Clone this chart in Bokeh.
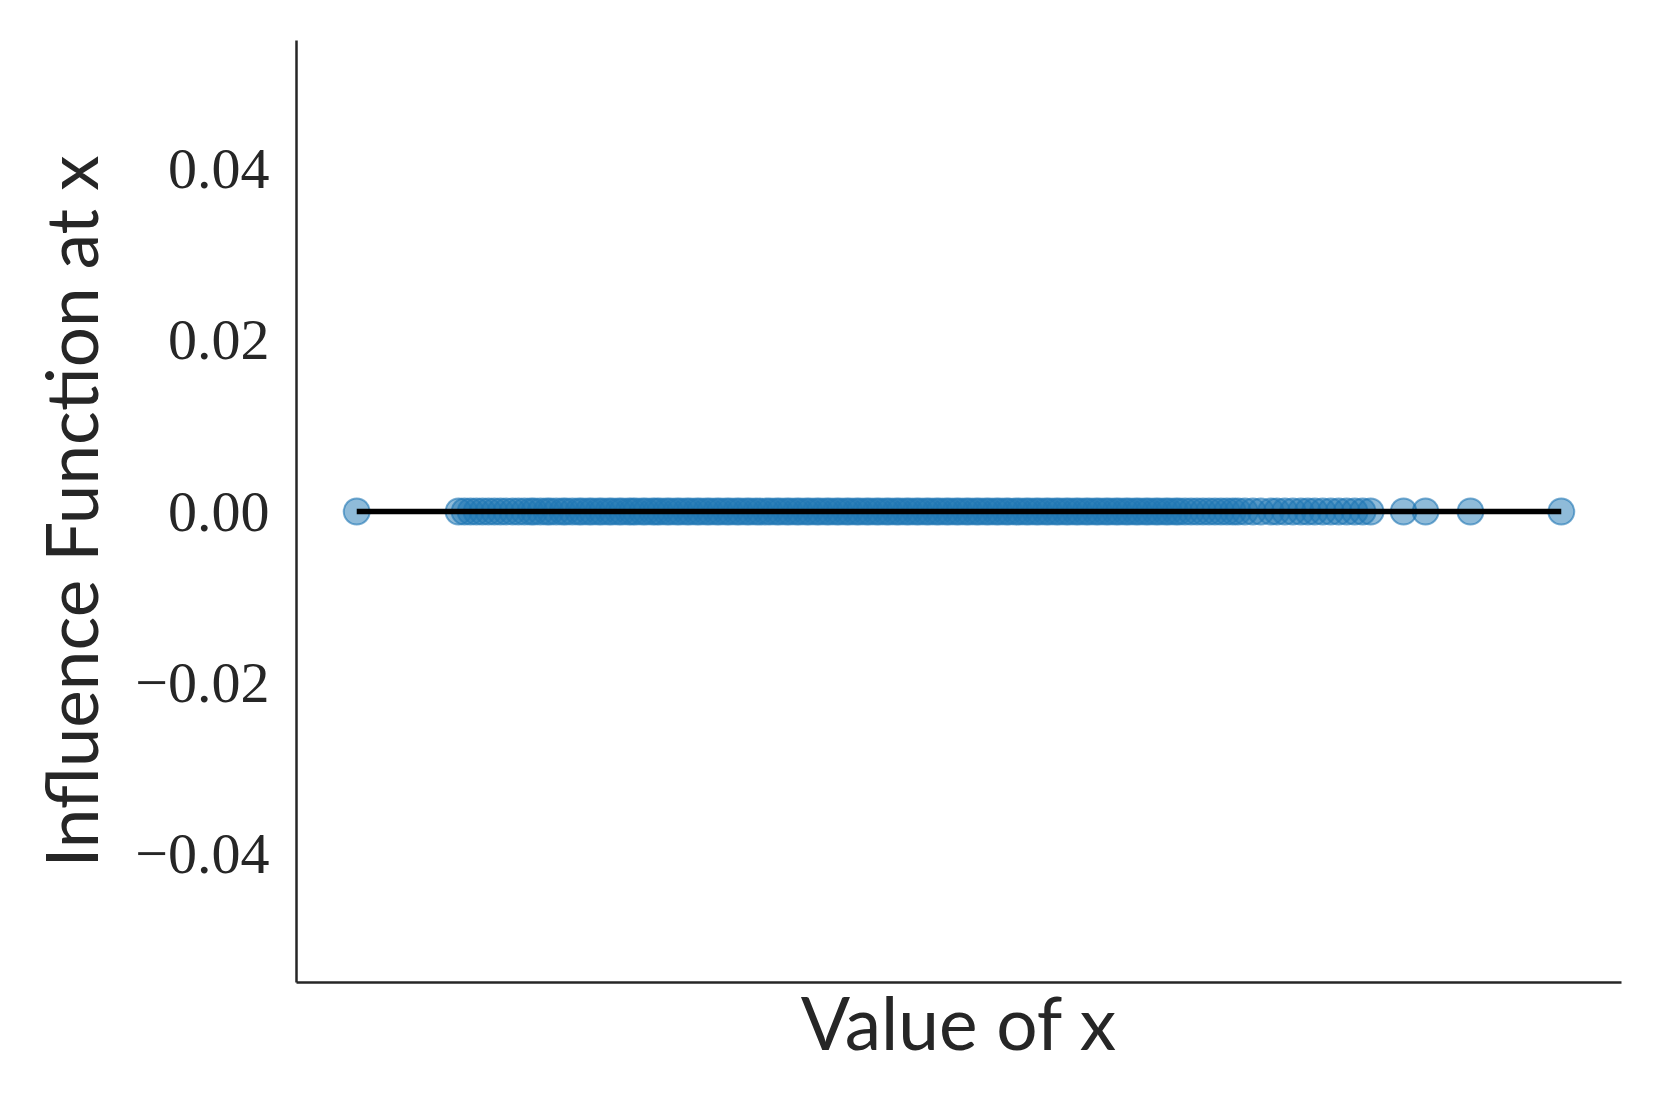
from bokeh.plotting import figure
from bokeh.models import FixedTicker, CustomJSTickFormatter, Range1d
from bokeh.embed import file_html
from bokeh.resources import INLINE

# sample positions (x), arbitrary units
x_values = [
    -2.73,
    -2.22, -2.19, -2.16, -2.13, -2.10, -2.07, -2.04, -2.01, -1.98, -1.95,
    -1.92, -1.89, -1.86, -1.84, -1.81, -1.78, -1.76, -1.73, -1.70, -1.68,
    -1.65, -1.62, -1.60, -1.57, -1.55, -1.52, -1.50, -1.47, -1.45, -1.42,
    -1.40, -1.37, -1.35, -1.33, -1.30, -1.28, -1.25, -1.23, -1.21, -1.18,
    -1.16, -1.13, -1.11, -1.08, -1.06, -1.03, -1.01, -0.98, -0.96, -0.93,
    -0.91, -0.88, -0.86, -0.83, -0.81, -0.78, -0.76, -0.73, -0.71, -0.68,
    -0.66, -0.63, -0.61, -0.58, -0.56, -0.53, -0.51, -0.48, -0.46, -0.43,
    -0.41, -0.38, -0.36, -0.33, -0.31, -0.28, -0.26, -0.23, -0.21, -0.18,
    -0.16, -0.13, -0.11, -0.08, -0.06, -0.03, -0.01, 0.02, 0.04, 0.07,
    0.09, 0.12, 0.14, 0.17, 0.19, 0.22, 0.24, 0.27, 0.29, 0.32,
    0.34, 0.37, 0.39, 0.42, 0.44, 0.47, 0.49, 0.52, 0.54, 0.57,
    0.59, 0.62, 0.64, 0.67, 0.69, 0.72, 0.74, 0.77, 0.79, 0.82,
    0.84, 0.87, 0.89, 0.92, 0.94, 0.97, 0.99, 1.02, 1.04, 1.07,
    1.09, 1.12, 1.14, 1.17, 1.19, 1.22, 1.24, 1.27, 1.29, 1.32,
    1.34, 1.37, 1.39, 1.42, 1.45, 1.48, 1.51, 1.54, 1.57, 1.60,
    1.63, 1.66, 1.685, 1.72, 1.76, 1.80, 1.85, 1.88, 1.92, 1.96,
    2.00, 2.035, 2.07, 2.11, 2.15, 2.19, 2.23, 2.27, 2.31, 2.35,
    2.515, 2.625, 2.85, 3.305,
]
influence = [0.0 for _ in x_values]

y_ticks = [-0.04, -0.02, 0.0, 0.02, 0.04]

x_label = "Value of x"
y_label = "Influence Function at x"

TEXT = "#262626"
BLUE = "#1f77b4"

W, H = 1653, 1093
BL, BR, BT, BB = 296, 32, 40, 111

xmin, xmax = min(x_values), max(x_values)
pad = (xmax - xmin) * 0.05
X0, X1 = xmin - pad, xmax + pad
Y0, Y1 = -0.055, 0.055

p = figure(width=W, height=H, output_backend="svg", toolbar_location=None,
           x_range=Range1d(X0, X1), y_range=Range1d(Y0, Y1),
           min_border_left=BL, min_border_right=BR, min_border_top=BT, min_border_bottom=BB)
p.outline_line_color = None
p.xgrid.visible = False
p.ygrid.visible = False
p.background_fill_color = "white"
p.border_fill_color = "white"

p.scatter(x_values, influence, size=26, fill_color=BLUE, fill_alpha=0.5,
          line_color=BLUE, line_alpha=0.6, line_width=2)
order = sorted(range(len(x_values)), key=lambda i: x_values[i])
p.line([x_values[i] for i in order], [influence[i] for i in order],
       line_color="black", line_width=5.5)

# axes
for ax in (p.xaxis[0], p.yaxis[0]):
    ax.axis_line_color = TEXT
    ax.axis_line_width = 2.5
    ax.major_tick_line_color = None
    ax.minor_tick_line_color = None
    ax.axis_label_text_font = "Lato"
    ax.axis_label_text_font_style = "normal"
    ax.axis_label_text_color = TEXT
p.xaxis.ticker = FixedTicker(ticks=[])
p.xaxis.axis_label = x_label
p.xaxis.axis_label_text_font_size = "73px"
p.xaxis.axis_label_standoff = -5
p.yaxis.axis_label = y_label
p.yaxis.axis_label_text_font_size = "71px"
p.yaxis.axis_label_standoff = 19
p.yaxis.ticker = FixedTicker(ticks=y_ticks)
p.yaxis.formatter = CustomJSTickFormatter(
    code="return (tick < -1e-9 ? '\u2212' : '') + Math.abs(tick).toFixed(2);")
p.yaxis.major_label_text_font = "Liberation Serif"
p.yaxis.major_label_text_font_size = "58px"
p.yaxis.major_label_text_color = TEXT
p.yaxis.major_label_standoff = 21

open("out.html", "w").write(file_html(p, INLINE))
